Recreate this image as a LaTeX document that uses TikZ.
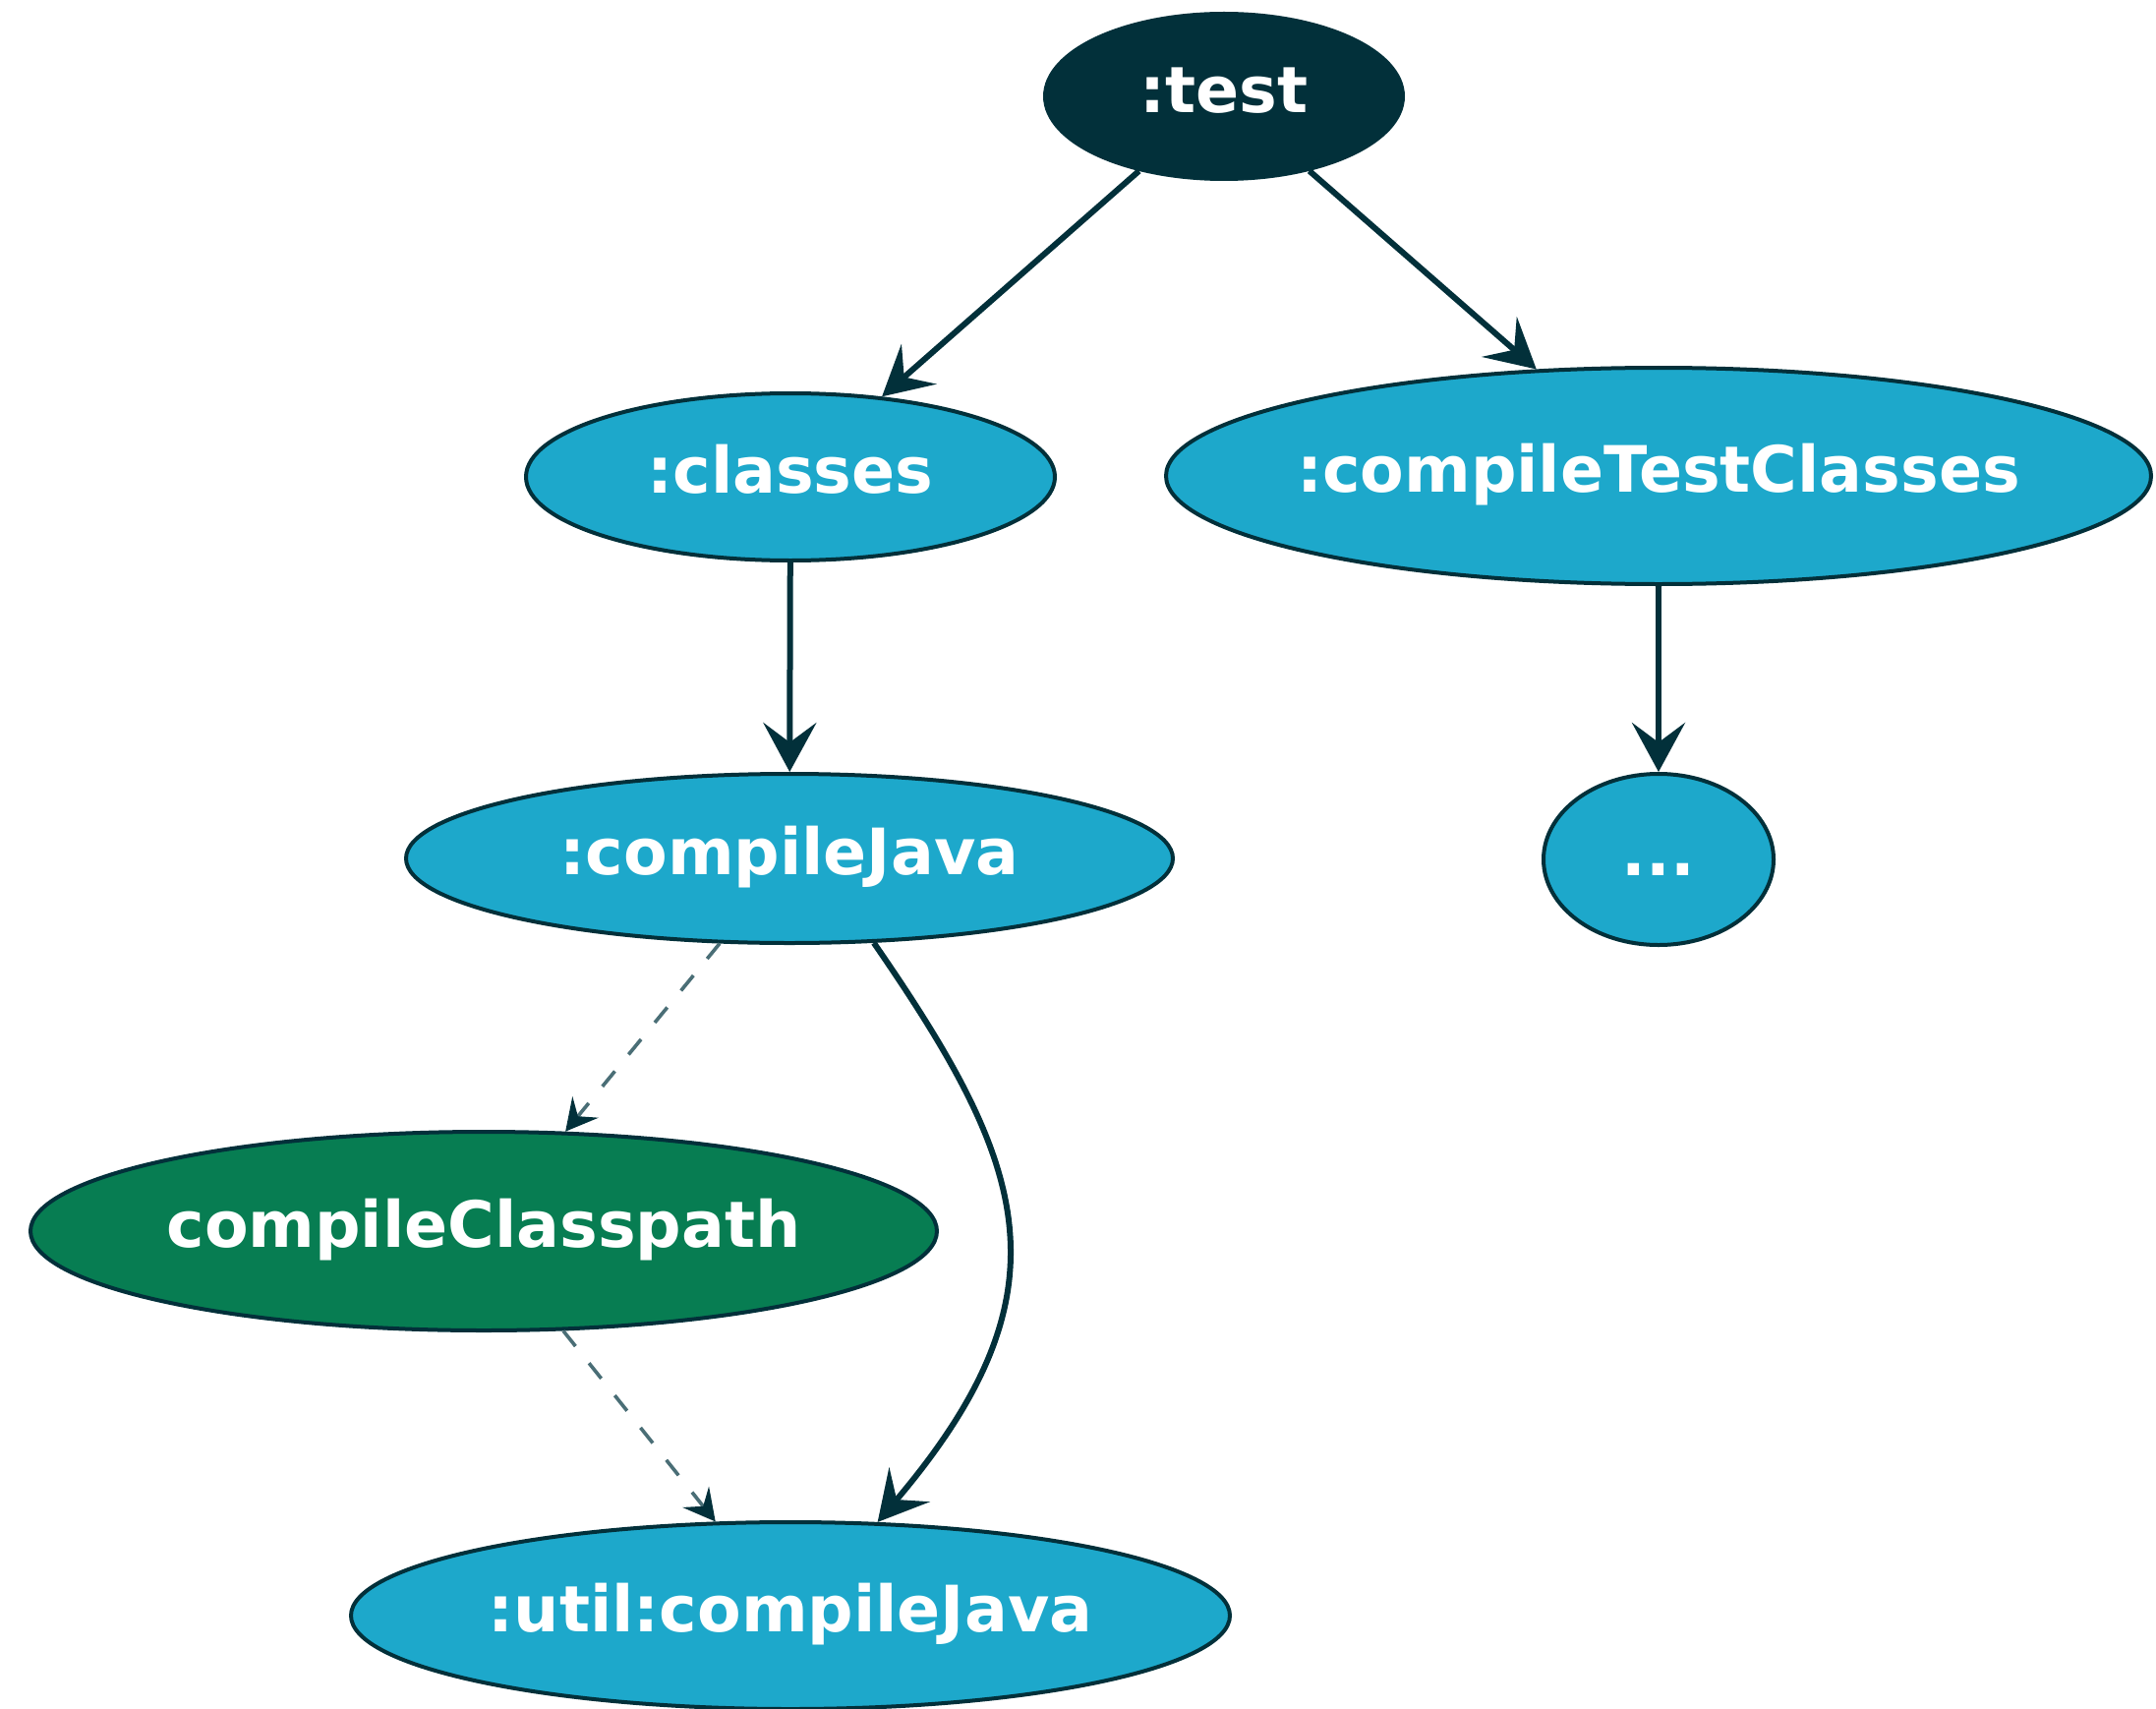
\documentclass[tikz,border=0pt]{standalone}
\usepackage{fontspec}
\setmainfont{DejaVu Sans}
\usetikzlibrary{shapes.geometric, arrows.meta}
\definecolor{gradleDark}{HTML}{02303A}
\definecolor{gradleBlue}{HTML}{1DA8CB}
\definecolor{gradleGreen}{HTML}{077D52}
\definecolor{gradleGrey}{HTML}{4A6E76}
\tikzset{
  task/.style={ellipse, draw=gradleDark, line width=2pt, fill=gradleBlue, text=white,
    inner sep=0pt, font=\fontsize{32.5}{39}\selectfont\bfseries,
    text height=23.4pt, text depth=6.5pt},
  dep/.style={line width=3pt, draw=gradleDark,
    -{Stealth[length=25pt, width=27pt, inset=10pt]}},
  cpdep/.style={line width=1.8pt, draw=gradleGrey, dash pattern=on 10pt off 11pt,
    -{Stealth[length=16pt, width=17pt, inset=6pt, color=gradleDark]}}
}

\begin{document}
\begin{tikzpicture}[x=0.5pt, y=-0.5pt]
    \useasboundingbox (0,0) rectangle (2193,1738);
    % tasks
    \node[task, fill=gradleDark, minimum width=182pt, minimum height=84pt] (test) at (1245,98) {:test};
    \node[task, minimum width=269pt, minimum height=85pt] (classes) at (804,485) {:classes};
    \node[task, inner xsep=-12pt, minimum width=501pt, minimum height=110pt] (testClasses) at (1687,484) {:compileTestClasses};
    \node[task, minimum width=390pt, minimum height=86pt] (compileJava) at (803,873) {:compileJava};
    \node[task, minimum width=117pt, minimum height=87pt] (more) at (1687,874) {...};
    \node[task, fill=gradleGreen, minimum width=461pt, minimum height=101pt] (classpath) at (492,1252) {compileClasspath};
    \node[task, minimum width=447pt, minimum height=95pt] (utilJava) at (804,1643) {:util:compileJava};
    % task dependencies
    \draw[dep] (test) -- (classes);
    \draw[dep] (test) -- (testClasses);
    \draw[dep] (classes) -- (compileJava);
    \draw[dep] (testClasses) -- (more);
    \draw[dep] (compileJava.-45) .. controls (1045,1185) and (1093,1312) .. (utilJava.47);
    % classpath
    \draw[cpdep] (compileJava) -- (classpath);
    \draw[cpdep] (classpath) -- (utilJava);
\end{tikzpicture}
\end{document}
